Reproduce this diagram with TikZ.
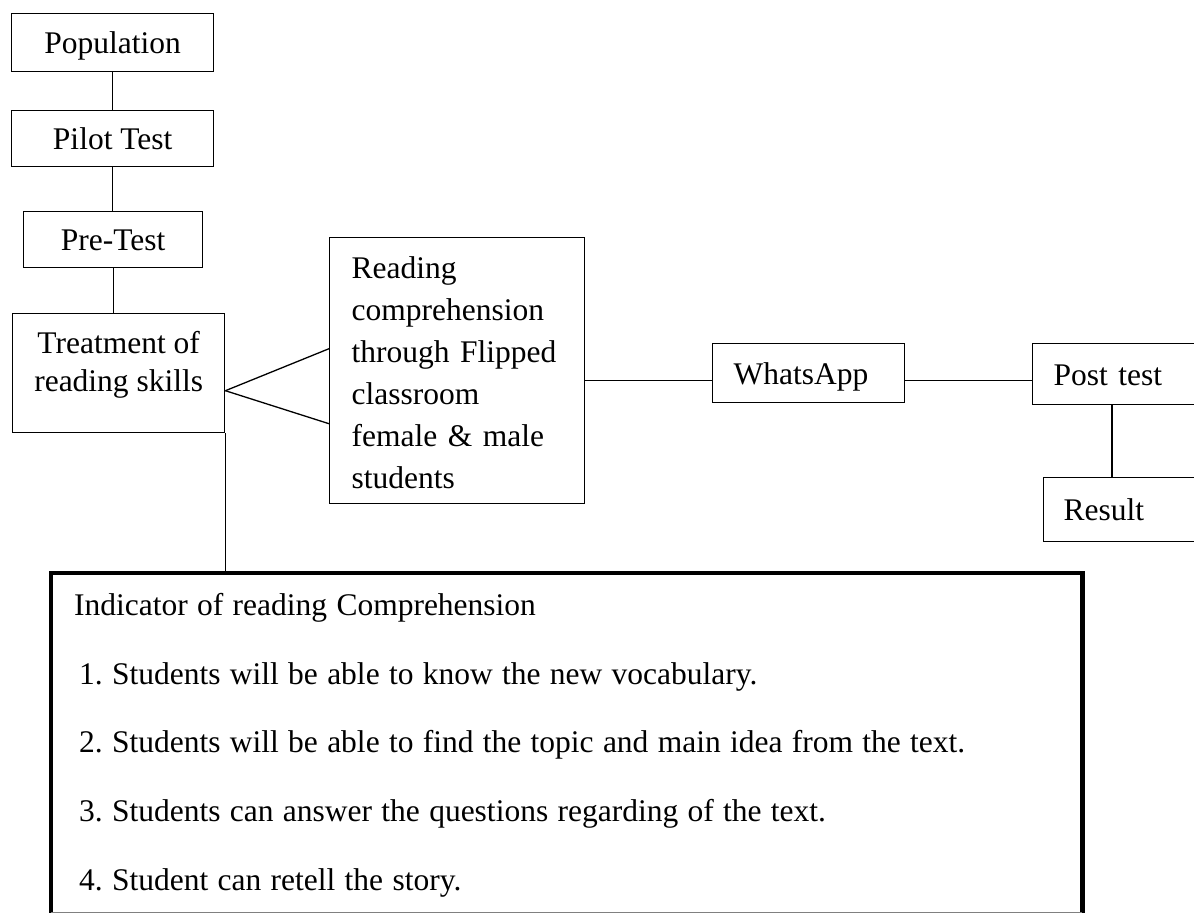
\documentclass[tikz,border=0pt]{standalone}
\usepackage{fontspec}
\setmainfont{Liberation Serif}
\frenchspacing
\begin{document}
\begin{tikzpicture}[x=1pt,y=-1pt,
    box/.style={draw,line width=1.4pt,anchor=north west,inner sep=0pt,
      font=\fontsize{31.5}{40}\selectfont},
    single/.style={box,text height=23pt,text depth=1pt},
    lbox/.style={single,align=left},
    link/.style={line width=1.3pt}]
\useasboundingbox (0,0) rectangle (1194,914);
\clip (0,0) rectangle (1194,914);

\node[single,minimum width=202pt,minimum height=58pt] (pop) at (11,13) {Population};
\node[single,minimum width=202pt,minimum height=56pt] (pilot) at (11,110) {Pilot Test};
\node[single,minimum width=179pt,minimum height=56pt] (pre) at (23,211) {Pre-Test};
\node[box,align=center,minimum width=212pt,minimum height=119pt,
      font=\fontsize{31.5}{38}\selectfont] (treat) at (12,313)
      {Treatment of\\reading skills\rule[-24pt]{0pt}{0pt}};
\node[box,align=left,inner xsep=22pt,text width=211pt,minimum height=266pt,
      font=\fontsize{31.5}{42}\selectfont] (read) at (329,237)
      {\rule{0pt}{26pt}Reading\\comprehension\\through Flipped\\classroom\\female \& male\\students};
\node[lbox,inner xsep=21pt,text width=150pt,minimum height=59pt] (what) at (712,343) {WhatsApp};
\node[lbox,inner xsep=21pt,text width=158pt,minimum height=61pt] (post) at (1032,343) {Post test};
\node[lbox,inner xsep=20pt,text width=160pt,minimum height=64pt] (res) at (1043,477) {Result};
\node[anchor=north west,inner xsep=23pt,inner ysep=20pt,align=left,text width=985pt,
      font=\fontsize{31.5}{68.75}\selectfont] (ind) at (51,573)
      {\spaceskip=9.3pt\relax Indicator of reading Comprehension\\
       \hspace*{5pt}1. Students will be able to know the new vocabulary.\\
       \hspace*{5pt}2. Students will be able to find the topic and main idea from the text.\\
       \hspace*{5pt}3. Students can answer the questions regarding of the text.\\
       \hspace*{5pt}\raisebox{0pt}[\height][2pt]{4. Student can retell the story.}};
\draw[line width=4.5pt] (ind.south west) -- (ind.north west) -- (ind.north east) -- (ind.south east);
\draw[gray,line width=1pt] (ind.south west) -- (ind.south east);

\coordinate (wl) at ([yshift=-7.5pt]what.west);
\coordinate (pl) at ([yshift=-6pt]post.west);
\coordinate (pr) at (1112,0);
\draw[link] (pop) -- (pilot);
\draw[link] (pilot.south) -- (pilot.south |- pre.north);
\draw[link] (pre.south) -- (pre.south |- treat.north);
\draw[link] ([yshift=-17.5pt]treat.east) -- ([yshift=22pt]read.west);
\draw[link] ([yshift=-17.5pt]treat.east) -- ([yshift=-53pt]read.west);
\draw[link] (treat.south east) -- (treat.south east |- ind.north);
\draw[link] (wl -| read.east) -- (wl);
\draw[link] (pl -| what.east) -- (pl);
\draw[link] (post.south -| pr) -- (res.north -| pr);
\end{tikzpicture}
\end{document}
